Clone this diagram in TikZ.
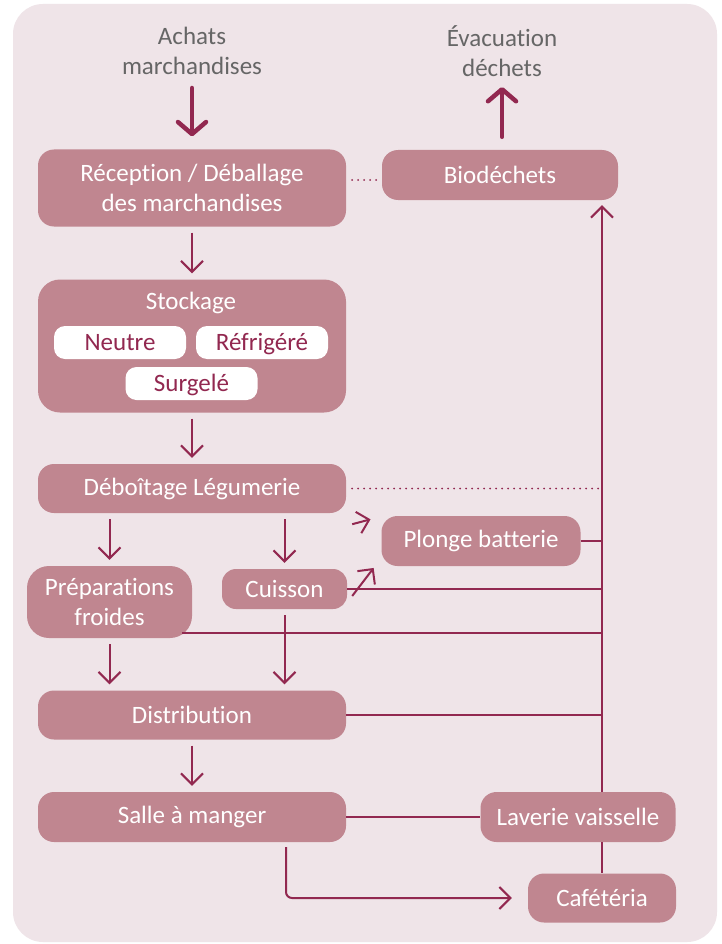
\documentclass[tikz,border=0pt]{standalone}
\usepackage{fontspec}
\setmainfont{Carlito}[Ligatures=NoCommon]
\usetikzlibrary{arrows.meta}
\definecolor{bgpink}{HTML}{EFE4E8}
\definecolor{boxpink}{HTML}{C08690}
\definecolor{wine}{HTML}{922850}
\definecolor{txtgray}{HTML}{666666}
\begin{document}
\begin{tikzpicture}[x=1pt,y=-1pt,
  font=\fontsize{25}{30}\selectfont,
  box/.style={fill=boxpink, text=white, rounded corners=16pt, align=center, inner sep=0pt},
  tag/.style={fill=white, text=wine, rounded corners=11pt, minimum width=132pt, minimum height=33pt, inner sep=0pt, text height=18pt, text depth=3pt},
  head/.style={text=txtgray, align=center},
  link/.style={draw=wine, line width=2pt},
  flow/.style={link, shorten <=6pt, shorten >=6pt, -{Straight Barb[length=11pt,width=22pt]}},
  big/.style={draw=wine, line width=4.5pt, line cap=round, -{Straight Barb[round,length=12pt,width=28pt]}},
  dots/.style={draw=wine, line width=2pt, line cap=round, dash pattern=on 0pt off 6pt}]
\fill[white] (0,0) rectangle (721,944);
\fill[bgpink, rounded corners=30pt] (13,4) rectangle (717,942);
% entrees / sorties
\node[head] (achats) at (192,51) {Achats\\marchandises};
\node[head] (evac) at (502,51) {Évacuation\\déchets};
% boites
\node[box, minimum width=308pt, minimum height=77pt] (rec) at (192,188) {Réception / Déballage\\des marchandises};
\node[box, minimum width=236pt, minimum height=50pt] (bio) at (500,175) {Biodéchets};
\node[box, rounded corners=22pt, minimum width=308pt, minimum height=133pt] (sto) at (192,346) {};
\node[text=white] (stolbl) at (191,303) {Stockage};
\node[tag] (neu) at (120,342.5) {Neutre};
\node[tag] (ref) at (262,342.5) {Réfrigéré};
\node[tag] (sur) at (191.5,383.5) {Surgelé};
\node[box, minimum width=308pt, minimum height=49pt] (deb) at (192,488.5) {Déboîtage Légumerie};
\node[box, minimum width=199pt, minimum height=50pt] (plo) at (481,541) {Plonge batterie};
\node[box, rounded corners=22pt, minimum width=165pt, minimum height=72pt] (pre) at (109.5,602) {Préparations\\froides};
\node[box, rounded corners=14pt, minimum width=125pt, minimum height=40pt] (cui) at (284.5,589) {Cuisson};
\node[box, minimum width=308pt, minimum height=49pt] (dis) at (192,715) {Distribution};
\node[box, minimum width=308pt, minimum height=50pt] (sal) at (192,817) {Salle à manger};
\node[box, minimum width=195pt, minimum height=50pt] (lav) at (578,817) {Laverie vaisselle};
\node[box, minimum width=148pt, minimum height=49pt] (caf) at (602,898) {Cafétéria};
\coordinate (salout) at ([xshift=94pt,yshift=-5pt]sal.south);
% fleches epaisses
\draw[big] ([yshift=-37pt]achats.center) -- ([yshift=13pt]rec.north);
\draw[big] ([yshift=13pt]bio.north -| evac) -- ([yshift=-36pt]evac.center);
% pointilles
\draw[dots] ([xshift=6pt,yshift=-5pt]bio.west -| rec.east) -- ([xshift=-4pt,yshift=-5pt]bio.west);
\draw[dots] ([xshift=6pt]deb.east) -- (deb.east -| caf);
% marche en avant
\draw[flow] (rec) -- (sto);
\draw[flow] (sto) -- (deb);
\draw[flow] (deb.south -| pre.north) -- (pre.north);
\draw[flow] (deb.south -| cui.north) -- (cui.north);
\draw[flow] (pre.south) -- (pre.south |- dis.north);
\draw[flow] (cui.south) -- (cui.south |- dis.north);
\draw[flow] (dis) -- (sal);
\draw[flow, shorten <=0pt] ([shift={(6pt,-11pt)}]deb.south east) -- ([shift={(-5pt,-2pt)}]plo.north west);
\draw[flow, shorten <=0pt] ([shift={(5pt,-7pt)}]cui.east) -- ([shift={(-4pt,3pt)}]plo.south west);
\draw[flow, shorten <=0pt, shorten >=16pt, rounded corners=6pt] (salout) |- (caf.west);
% retour dechets
\draw[link] (plo.east) -- (plo.east -| caf);
\draw[link] (cui.east) -- (cui.east -| caf);
\draw[link] ([xshift=-10pt,yshift=5pt]pre.south east) -- ([yshift=5pt]pre.south east -| caf);
\draw[link] (dis.east) -- (dis.east -| caf);
\draw[link] (sal) -- (lav);
\draw[link] (lav.south -| caf) -- (caf.north);
\draw[flow, shorten <=0pt, shorten >=5pt] (lav.north -| caf) -- (bio.south -| caf);
\end{tikzpicture}
\end{document}
